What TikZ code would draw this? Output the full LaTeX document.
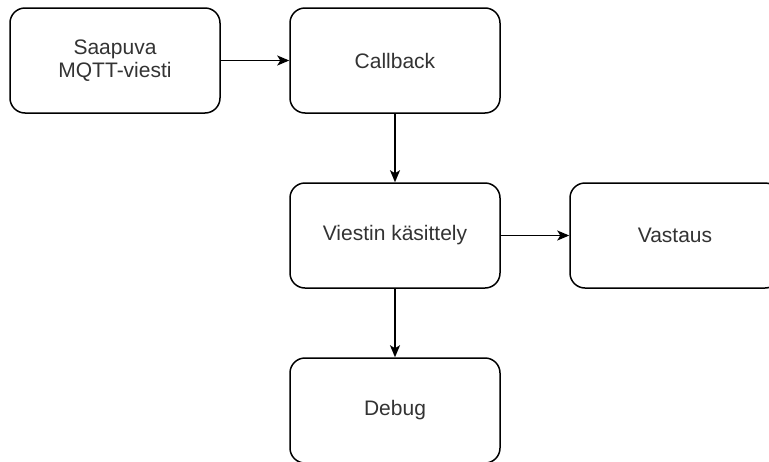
\documentclass[tikz,border=0pt]{standalone}
\usepackage{fontspec}
\setmainfont{Liberation Sans}
\usetikzlibrary{arrows.meta}
\definecolor{txt}{HTML}{333333}
\tikzset{
  proc/.style={draw=black, line width=1.5pt, rounded corners=15pt, fill=white,
    minimum width=210pt, minimum height=105pt, inner sep=0pt, align=center,
    text=txt, font=\fontsize{21}{23}\selectfont},
  flow/.style={line width=1.5pt, -{Stealth[length=12pt,width=10pt,inset=3pt]}}
}
\begin{document}
\begin{tikzpicture}[x=1pt,y=-1pt]
  \useasboundingbox (0,0) rectangle (769,461);
  \clip (0,0) rectangle (769,461);
  \node[proc] (incoming) at (115,60.5)  {Saapuva\\MQTT-viesti};
  \node[proc] (callback) at (395,60.5)  {Callback};
  \node[proc] (handle)   at (395,235.5) {Viestin käsittely};
  \node[proc] (reply)    at (675,235.5) {Vastaus};
  \node[proc] (debug)    at (395,410.5) {Debug};
  \draw[flow] (incoming) -- (callback);
  \draw[flow] (callback) -- (handle);
  \draw[flow] (handle) -- (reply);
  \draw[flow] (handle) -- (debug);
\end{tikzpicture}
\end{document}
